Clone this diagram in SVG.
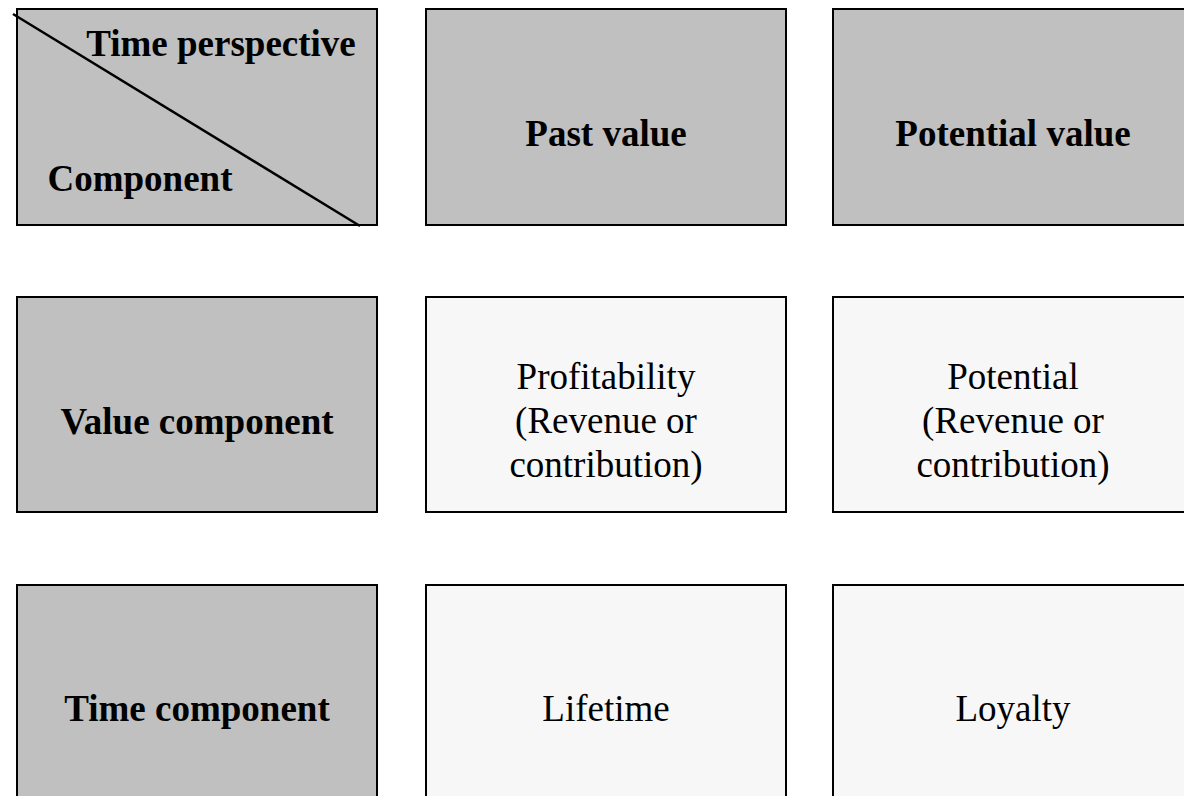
<svg xmlns="http://www.w3.org/2000/svg" width="1184" height="796" viewBox="0 0 1184 796">
<style>
.g{fill:#C0C0C0;stroke:#000;stroke-width:2}
.l{fill:#F7F7F7;stroke:#000;stroke-width:2}
.b{font-family:"Liberation Serif",serif;font-weight:bold;font-size:37px;fill:#000;text-anchor:middle}
.r{font-family:"Liberation Serif",serif;font-size:37px;fill:#000;text-anchor:middle}
</style>
<rect width="1184" height="796" fill="#fff"/>
<g id="corner">
<rect class="g" x="17" y="9" width="360" height="216"/>
<line x1="13" y1="14" x2="360" y2="226" stroke="#000" stroke-width="2.5"/>
<text class="b" x="221" y="56">Time perspective</text>
<text class="b" x="140" y="191">Component</text>
</g>
<g id="past-value"><rect class="g" x="426" y="9" width="360" height="216"/><text class="b" x="606" y="146">Past value</text></g>
<g id="potential-value"><rect class="g" x="833" y="9" width="360" height="216"/><text class="b" x="1013" y="146">Potential value</text></g>
<g id="value-component"><rect class="g" x="17" y="297" width="360" height="215"/><text class="b" x="197" y="434">Value component</text></g>
<g id="profitability"><rect class="l" x="426" y="297" width="360" height="215"/>
<text class="r" x="606" y="389">Profitability</text><text class="r" x="606" y="433">(Revenue or</text><text class="r" x="606" y="477">contribution)</text></g>
<g id="potential"><rect class="l" x="833" y="297" width="360" height="215"/>
<text class="r" x="1013" y="389">Potential</text><text class="r" x="1013" y="433">(Revenue or</text><text class="r" x="1013" y="477">contribution)</text></g>
<g id="time-component"><rect class="g" x="17" y="585" width="360" height="230"/><text class="b" x="197" y="721">Time component</text></g>
<g id="lifetime"><rect class="l" x="426" y="585" width="360" height="230"/><text class="r" x="606" y="721">Lifetime</text></g>
<g id="loyalty"><rect class="l" x="833" y="585" width="360" height="230"/><text class="r" x="1013" y="721">Loyalty</text></g>
<g id="connectors"></g>
</svg>
